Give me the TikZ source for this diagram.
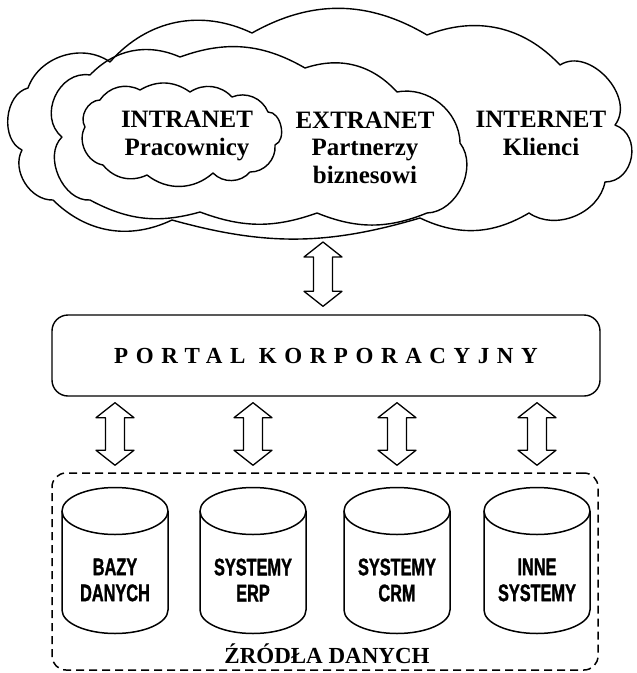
\documentclass[tikz,border=0pt]{standalone}
\usepackage{fontspec}
\setmainfont{Liberation Serif}
\newfontfamily\condfont[FakeStretch=0.68,FakeBold=1.2]{Liberation Sans Bold}
\usetikzlibrary{calc}
\begin{document}
\begin{tikzpicture}[x=1pt,y=-1pt,line join=round,
  cloudline/.style={line width=1.4pt},
  bl/.style={bend left=#1},
  cloudtext/.style={font=\fontsize{25}{27.5}\selectfont\bfseries,align=center,inner sep=0pt},
  arrowline/.style={draw,line width=1.3pt,fill=white},
  cyl/.style={line width=1.5pt},
  cyltext/.style={font=\condfont\fontsize{24}{26}\selectfont,align=center,inner sep=0pt},
  portalbox/.style={draw,line width=1.4pt,rounded corners=16pt,minimum width=548pt,minimum height=81pt,inner sep=0pt},
  srcbox/.style={draw,line width=1.5pt,dash pattern=on 8pt off 5pt,rounded corners=14pt,minimum width=546pt,minimum height=197pt,inner sep=0pt},
]
\newcommand\hollowarrow[2]{%
  \draw[arrowline] (#1) -- ($(#1)+(19,15)$) -- ($(#1)+(9.5,15)$) -- ($(#2)+(9.5,-15)$) -- ($(#2)+(19,-15)$) -- (#2)
   -- ($(#2)+(-19,-15)$) -- ($(#2)+(-9.5,-15)$) -- ($(#1)+(-9.5,15)$) -- ($(#1)+(-19,15)$) -- cycle;}
\fill[white] (0,0) rectangle (637,673);
\useasboundingbox (0,0) rectangle (637,673);

% outer cloud (INTERNET)
\draw[cloudline] (53,200) to[bl=60] (22,150) to[bl=70] (28,88) to[bl=53] (110,62) to[bl=37] (252,33) to[bl=30] (427,35) to[bl=34] (560,65) to[bend left=80,looseness=1.1] (615,125) to[bend left=80,looseness=1.3] (605,182) to[bl=57] (529,213) to[bl=28] (420,218) to[bl=16] (172,220) to[bl=35] (53,200) -- cycle;
% middle cloud (EXTRANET)
\draw[cloudline] (90,200) to[bl=70] (62,137) to[bend left=75,looseness=1.2] (90,75) to[bl=35] (180,57) to[bl=25] (305,68) to[bl=33] (397,92) to[bl=50] (460,143) to[bl=63] (427,213) to[bl=22] (317,213) to[bl=20] (200,212) to[bl=22] (90,200) -- cycle;
% inner cloud (INTRANET)
\draw[cloudline] (85,127) to[bl=60] (100,100) to[bl=42] (140,90) to[bl=33] (190,92) to[bl=40] (232,97) to[bl=45] (268,112) to[bl=80] (275,145) to[bl=48] (250,172) to[bl=48] (213,173) to[bl=40] (147,175) to[bl=38] (103,165) to[bl=55] (85,127) -- cycle;

\node[cloudtext] (intranet) at (187,136) {INTRANET\\Pracownicy};
\node[cloudtext] (extranet) at (365,147.5) {EXTRANET\\Partnerzy\\biznesowi};
\node[cloudtext] (internet) at (541,133.5) {INTERNET\\Klienci};

% portal
\node[portalbox] (portal) at (326,355.5) {\fontsize{23}{26}\selectfont\bfseries\addfontfeature{LetterSpace=33}PORTAL KORPORACYJNY};
\coordinate (a0top) at (323,242);
\coordinate (a0bot) at ($(portal.north -| a0top)+(0,-8)$);
\hollowarrow{a0top}{a0bot}

% data sources
\node[srcbox] (src) at (325,571.5) {};
\node[font=\fontsize{23}{25}\selectfont\bfseries,inner sep=0pt] (srclabel) at (327,654) {ŹRÓDŁA DANYCH};

\foreach \cx/\nm/\txt in {115/c1/{BAZY\\DANYCH},253/c2/{SYSTEMY\\ERP},397/c3/{SYSTEMY\\CRM},537/c4/{INNE\\SYSTEMY}}{
  \draw[cyl,fill=white] (\cx-53,511) -- (\cx-53,610) arc[start angle=180,end angle=0,x radius=53,y radius=23.5] -- (\cx+53,511);
  \draw[cyl] (\cx,511) ellipse (53 and 23.5);
  \node[cyltext] (\nm) at (\cx,580) {\txt};
  \coordinate (t\nm) at ($(portal.south -| \nm)+(0,6)$);
  \coordinate (b\nm) at ($(src.north -| \nm)+(0,-7)$);
  \hollowarrow{t\nm}{b\nm}
}
\end{tikzpicture}
\end{document}
